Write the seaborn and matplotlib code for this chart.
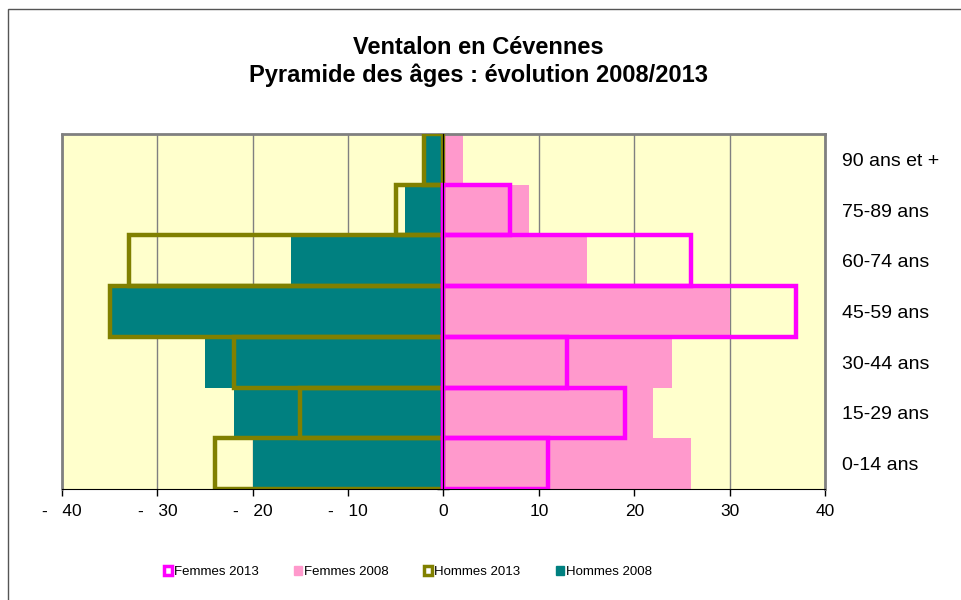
import matplotlib
matplotlib.use("Agg")
import matplotlib.pyplot as plt
import matplotlib.ticker as mticker
from matplotlib.patches import Patch, Rectangle
import numpy as np
import pandas as pd
import seaborn as sns

sns.set_style("white")
plt.rcParams["font.family"] = ["Liberation Sans", "DejaVu Sans"]
plt.rcParams["text.color"] = "black"
plt.rcParams["xtick.color"] = "black"
plt.rcParams["ytick.color"] = "black"

# age groups, top of the pyramid first
ages = ["90 ans et +", "75-89 ans", "60-74 ans", "45-59 ans",
        "30-44 ans", "15-29 ans", "0-14 ans"]
hommes_2008 = [2, 4, 16, 35, 25, 22, 20]
hommes_2013 = [2, 5, 33, 35, 22, 15, 24]
femmes_2008 = [2, 9, 15, 30, 24, 22, 26]
femmes_2013 = [0, 7, 26, 37, 13, 19, 11]

df = pd.DataFrame({
    "age": ages,
    "hommes_2008": [-v for v in hommes_2008],
    "hommes_2013": [-v for v in hommes_2013],
    "femmes_2008": femmes_2008,
    "femmes_2013": femmes_2013,
}).replace(0, np.nan)

c_f13 = "#FF00FF"
c_f08 = "#FF99CC"
c_h13 = "#808000"
c_h08 = "#008080"

fig = plt.figure(figsize=(9.62, 6.0), dpi=100)
ax = fig.add_axes([62 / 962, 1 - 489 / 600, (825 - 62) / 962, (489 - 134) / 600])
ax.set_facecolor("#FFFFCC")

# filled bars (2008)
sns.barplot(data=df, x="hommes_2008", y="age", order=ages, orient="h",
            width=1, color=c_h08, saturation=1, linewidth=0, ax=ax, zorder=2)
sns.barplot(data=df, x="femmes_2008", y="age", order=ages, orient="h",
            width=1, color=c_f08, saturation=1, linewidth=0, ax=ax, zorder=2)

# outline bars (2013)
n_before = len(ax.patches)
sns.barplot(data=df, x="hommes_2013", y="age", order=ages, orient="h",
            width=1, color=c_h13, saturation=1, ax=ax, zorder=3)
sns.barplot(data=df, x="femmes_2013", y="age", order=ages, orient="h",
            width=1, color=c_f13, saturation=1, ax=ax, zorder=3)
for p in ax.patches[n_before:]:
    p.set_edgecolor(p.get_facecolor())
    p.set_facecolor("none")
    p.set_linewidth(3.2)
    p.set_joinstyle("miter")

ax.set_xlim(-40, 40)
ax.set_ylim(len(ages) - 0.5, -0.5)
ax.set_xlabel("")
ax.set_ylabel("")

ax.xaxis.set_major_locator(mticker.MultipleLocator(10))
ax.xaxis.set_major_formatter(
    mticker.FuncFormatter(lambda v, pos: f"-   {abs(int(v))}" if v < 0 else f"{int(v)}"))
ax.tick_params(axis="x", bottom=True, direction="out", length=5, width=1,
               color="black", labelsize=12.5, pad=6)
ax.grid(axis="x", color="#808080", linewidth=1)
ax.grid(axis="y", visible=False)
ax.set_axisbelow(True)

# y axis: spine on zero, labels on the right
ax.spines["left"].set_position(("data", 0))
ax.spines["left"].set_color("black")
ax.spines["left"].set_zorder(4)
ax.spines["bottom"].set_color("black")
ax.spines["bottom"].set_zorder(6)
ax.spines["top"].set_color("#808080")
ax.spines["right"].set_color("#808080")
ax.spines["top"].set_linewidth(2)
ax.spines["right"].set_linewidth(2)
ax.set_yticks(np.arange(-0.5, len(ages), 1), minor=True)
ax.tick_params(axis="y", which="major", left=False, right=False,
               labelleft=False, labelright=True, labelsize=14, pad=9)
ax.tick_params(axis="y", which="minor", left=True, right=False,
               direction="inout", length=8, width=1, color="black")
# left edge of the plot frame (the left spine sits on zero)
ax.plot([0, 0], [0, 1], transform=ax.transAxes, color="#808080",
        linewidth=2, zorder=5, clip_on=False)

fig.text(0.497, 1 - 47 / 600, "Ventalon en Cévennes", ha="center", va="center",
         fontsize=17, fontweight="bold")
fig.text(0.497, 1 - 75 / 600, "Pyramide des âges : évolution 2008/2013",
         ha="center", va="center", fontsize=17, fontweight="bold")

handles = [
    Patch(facecolor="white", edgecolor=c_f13, linewidth=2.5, label="Femmes 2013"),
    Patch(facecolor=c_f08, edgecolor=c_f08, label="Femmes 2008"),
    Patch(facecolor="white", edgecolor=c_h13, linewidth=2.5, label="Hommes 2013"),
    Patch(facecolor=c_h08, edgecolor=c_h08, label="Hommes 2008"),
]
fig.legend(handles=handles, loc="center", bbox_to_anchor=(0.424, 1 - 572 / 600),
           ncol=4, frameon=False, fontsize=9.5, handlelength=0.6, handleheight=0.6,
           handletextpad=0.15, columnspacing=2.7)

# outer chart border
fig.add_artist(Rectangle((8 / 962, -0.05), 1.1, 1.05 - 9 / 600,
                         transform=fig.transFigure, fill=False,
                         edgecolor="#555555", linewidth=1))

fig.savefig("out.png", dpi=100)
